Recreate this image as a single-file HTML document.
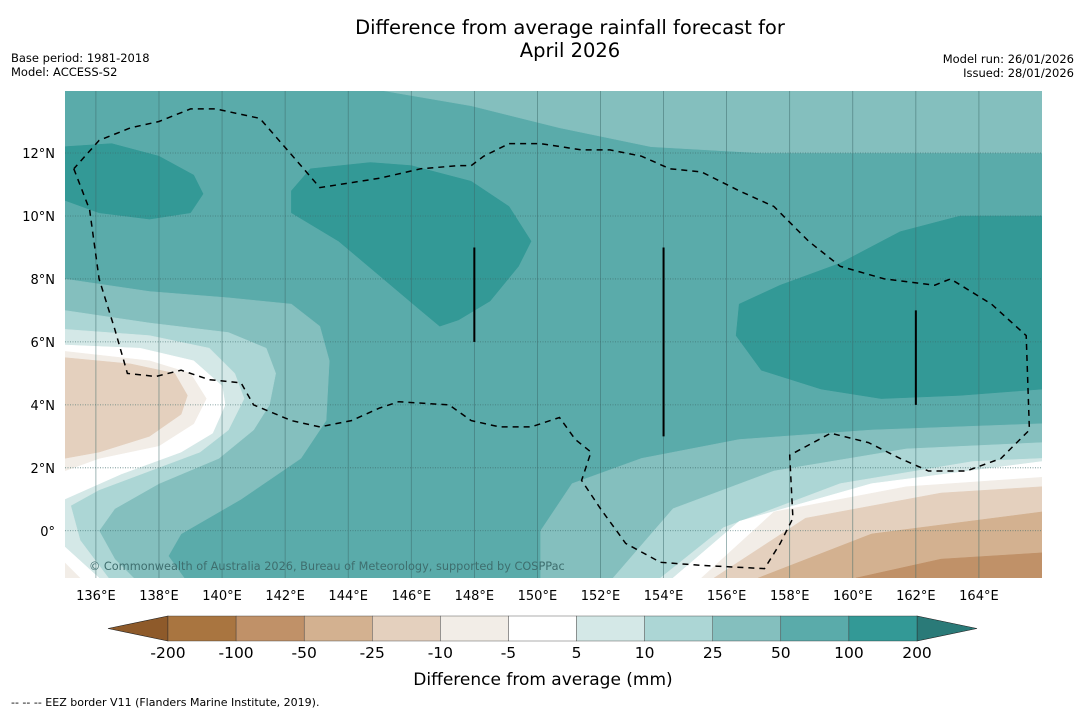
<!DOCTYPE html>
<html><head><meta charset="utf-8">
<style>
body{margin:0;background:#fff;}
svg{display:block;font-family:"DejaVu Sans","Liberation Sans",sans-serif;}
</style></head>
<body>
<svg id="chart" width="1085" height="713" viewBox="0 0 1085 713">
<text x="570" y="34" font-size="19.5" text-anchor="middle">Difference from average rainfall forecast for</text>
<text x="570" y="57" font-size="19.5" text-anchor="middle">April 2026</text>
<text x="11" y="62" font-size="11.5">Base period: 1981-2018</text>
<text x="11" y="76" font-size="11.5">Model: ACCESS-S2</text>
<text x="1074" y="63" font-size="11.5" text-anchor="end">Model run: 26/01/2026</text>
<text x="1074" y="77" font-size="11.5" text-anchor="end">Issued: 28/01/2026</text>
<defs><clipPath id="mapclip"><rect x="65" y="91" width="977" height="487"/></clipPath></defs>
<g id="map" clip-path="url(#mapclip)"></g>
<g id="grid" clip-path="url(#mapclip)"></g>
<g id="overlay" clip-path="url(#mapclip)"></g>
<text x="89" y="570" font-size="11.3" fill="#3e6e6e">© Commonwealth of Australia 2026, Bureau of Meteorology, supported by COSPPac</text>
<g id="axes"></g>
<g id="cbar"></g>
<text x="543" y="685" font-size="17" text-anchor="middle">Difference from average (mm)</text>
<text x="11" y="706" font-size="11">--  --  -- EEZ border V11 (Flanders Marine Institute, 2019).</text>
</svg>
<script>
const levelLabels = ["-200","-100","-50","-25","-10","-5","5","10","25","50","100","200"];
const binColors = ["#a97540","#c09168","#d3b190","#e4d0be","#f2ede7","#ffffff","#d4e8e7","#acd6d5","#84bfbe","#5aabaa","#339996"];
const underColor = "#8e5a2a";
const overColor = "#2a7a78";
const lonTicks = [136,138,140,142,144,146,148,150,152,154,156,158,160,162,164];
const latTicks = [0,2,4,6,8,10,12];
const lonRange = [135.02,166.0];
const latRange = [-1.5,13.97];
// contour regions: [bin index, polygon as lon,lat pairs]
const regionBins = [8,10,10,10,8,7,6,5,4,3,5,4,8,7,6,5,4,3,2,1];
const regionPolys = [
 [[145,14],[147.9,13.5],[150.7,12.8],[153.6,12.2],[157.1,12],[166,12],[166,14]],
 [[135,12.2],[136.5,12.3],[138,11.9],[139.1,11.3],[139.4,10.7],[139,10.1],[137.7,9.9],[136.1,10.1],[135,10.5]],
 [[142.2,10.8],[142.8,11.5],[144.7,11.7],[146,11.6],[147.9,11.1],[149.1,10.3],[149.8,9.2],[149.4,8.4],[148.5,7.3],[147.5,6.7],[146.9,6.5],[146.3,7.0],[145,8.1],[143.7,9.2],[142.2,10.1]],
 [[156.4,7.2],[157.7,7.8],[159.6,8.5],[161.5,9.5],[163.4,10],[166,10],[166,4.5],[163.4,4.3],[160.9,4.2],[159,4.5],[157.1,5.1],[156.3,6.2]],
 [[135,8],[137.7,7.6],[140.2,7.4],[142.2,7.2],[143.1,6.5],[143.4,5.4],[143.3,3.5],[142.5,2.3],[140.6,1],[138.7,-0.1],[138.3,-0.8],[138.8,-1.5],[135,-1.5]],
 [[135,7],[137.7,6.6],[140.2,6.3],[141.4,5.8],[141.7,5],[141.5,4],[141,3.2],[139.9,2.3],[138,1.5],[136.6,0.7],[136.1,0],[136.6,-0.9],[137.2,-1.5],[135,-1.5]],
 [[135,6.4],[137.7,6.2],[139.6,5.8],[140.4,5],[140.7,4.2],[140.2,3.2],[139.3,2.5],[137.7,1.9],[136.1,1.3],[135.2,0.8],[135.5,-0.3],[136.4,-1.5],[135,-1.5]],
 [[135,5.9],[137.4,5.8],[139.1,5.4],[140,4.6],[140.1,4],[139.7,3.1],[138.7,2.5],[136.8,1.8],[135,1]],
 [[135,5.7],[137.7,5.4],[139,5],[139.5,4.2],[139.1,3.4],[138,2.7],[136.1,2.3],[135,1.9]],
 [[135,5.5],[137.1,5.3],[138.5,5],[138.9,4.3],[138.7,3.7],[137.7,3],[136.1,2.5],[135,2.3]],
 [[135,-0.5],[136.1,-1.5],[135,-1.5]],
 [[135,-1.0],[135.5,-1.5],[135,-1.5]],
 [[150.1,-1.5],[150.1,0],[151.1,1.5],[153.3,2.3],[156.4,2.9],[160.6,3.2],[166,3.4],[166,-1.5]],
 [[152.4,-1.5],[154.3,0.7],[157.5,1.9],[161.7,2.6],[166,2.8],[166,-1.5]],
 [[153.9,-1.5],[155.9,0.1],[159.6,1.5],[163.8,2.2],[166,2.3],[166,-1.5]],
 [[154.3,-1.5],[156.4,0.3],[160.6,1.5],[166,2.2],[166,-1.5]],
 [[155.2,-1.5],[157.5,0.6],[161.7,1.4],[166,1.7],[166,-1.5]],
 [[155.6,-1.5],[158.5,0.4],[162.8,1.2],[166,1.4],[166,-1.5]],
 [[157,-1.5],[160.6,-0.1],[166,0.6],[166,-1.5]],
 [[160.1,-1.5],[162.8,-0.9],[166,-0.7],[166,-1.5]]
];
const eezLon = [135.3,135.8,136.1,136.6,137,137.9,138.7,139.6,140.6,141.0,142.2,143.1,144.1,145,145.6,147.2,147.9,148.8,149.8,150.7,151.2,151.7,151.4,152,152.8,153.9,155.2,157.2,157.7,158.1,158,159.3,160.5,161.5,162.4,163.6,164.7,165.6,165.5,164.4,163.1,162.6,161,159.6,158.6,157.5,156.4,155.2,154.2,153.3,152.3,151.4,150.1,149.1,148.3,147.9,147.5,146.3,145,143.1,142.5,141.2,139.8,139,138,137.1,136.1,135.3];
const eezLat = [11.5,10.2,8,6.4,5,4.9,5.1,4.8,4.7,4,3.5,3.3,3.5,3.9,4.1,4,3.5,3.3,3.3,3.6,2.9,2.5,1.6,0.7,-0.4,-1,-1.1,-1.2,-0.4,0.4,2.4,3.1,2.8,2.3,1.9,1.9,2.3,3.2,6.2,7.2,8,7.8,8,8.4,9.2,10.3,10.8,11.4,11.5,11.9,12.1,12.1,12.3,12.3,11.9,11.6,11.6,11.5,11.2,10.9,11.6,13.1,13.4,13.4,13,12.8,12.4,11.5];
const segLon = [148,154,162];
const segLat0 = [9,9,7];
const segLat1 = [6,3,4];

const NS="http://www.w3.org/2000/svg";
const X0=65,X1=1042,Y0=578,Y1=91;
function xs(lon){return X0+(lon-lonRange[0])/(lonRange[1]-lonRange[0])*(X1-X0);}
function ys(lat){return Y0-(lat-latRange[0])/(latRange[1]-latRange[0])*(Y0-Y1);}
function mk(tag,attrs,parent){const e=document.createElementNS(NS,tag);for(const k in attrs)e.setAttribute(k,attrs[k]);parent.appendChild(e);return e;}
const map=document.getElementById('map'),grid=document.getElementById('grid'),ov=document.getElementById('overlay'),axes=document.getElementById('axes'),cb=document.getElementById('cbar');

let bg=mk('rect',{x:X0,y:Y1,width:X1-X0,height:Y0-Y1,fill:binColors[9]},map);


regionPolys.forEach((poly,i)=>{
  const p=mk('polygon',{points:poly.map(q=>xs(q[0]).toFixed(1)+','+ys(q[1]).toFixed(1)).join(' '),fill:binColors[regionBins[i]],stroke:binColors[regionBins[i]],'stroke-width':0.5,'stroke-linejoin':'round'},map);
  
  
});
lonTicks.forEach(l=>{
  const g=mk('line',{x1:xs(l),x2:xs(l),y1:Y1,y2:Y0,stroke:'#3c6a6a','stroke-width':0.7,'stroke-opacity':0.7},grid);
  
  
  const t=mk('text',{x:xs(l),y:600,'font-size':13,'text-anchor':'middle'},axes);
  t.textContent=l+'°E';
  
  
});
latTicks.forEach(l=>{
  const g=mk('line',{x1:X0,x2:X1,y1:ys(l),y2:ys(l),stroke:'#3c6a6a','stroke-width':0.8,'stroke-dasharray':'1,1.5','stroke-opacity':0.8},grid);
  
  
  const t=mk('text',{x:55,y:ys(l)+5,'font-size':13,'text-anchor':'end'},axes);
  t.textContent=l===0?'0°':l+'°N';
  
  
});
let eez=mk('polyline',{points:eezLon.map((l,i)=>xs(l).toFixed(1)+','+ys(eezLat[i]).toFixed(1)).join(' '),fill:'none',stroke:'#000','stroke-width':1.5,'stroke-dasharray':'6,5'},ov);


segLon.forEach((l,i)=>{
  const s=mk('line',{x1:xs(l),x2:xs(l),y1:ys(segLat0[i]),y2:ys(segLat1[i]),stroke:'#000','stroke-width':2},ov);
  
  
});
// colorbar
const CX0=168,CX1=917,CY=616,CH=25,n=binColors.length,w=(CX1-CX0)/n;
let under=mk('polygon',{points:`${CX0},${CY} ${CX0},${CY+CH} 108,${CY+CH/2}`,fill:underColor,stroke:'#222','stroke-width':0.6},cb);


let over=mk('polygon',{points:`${CX1},${CY} ${CX1},${CY+CH} 977,${CY+CH/2}`,fill:overColor,stroke:'#222','stroke-width':0.6},cb);


binColors.forEach((c,i)=>{
  const r=mk('rect',{x:CX0+i*w,y:CY,width:w,height:CH,fill:c,stroke:'#333','stroke-width':0.4},cb);
  
  
});
levelLabels.forEach((s,i)=>{
  const t=mk('text',{x:CX0+i*w,y:658,'font-size':15.5,'text-anchor':'middle'},cb);
  t.textContent=s;
  
  
});
</script>
</body></html>
